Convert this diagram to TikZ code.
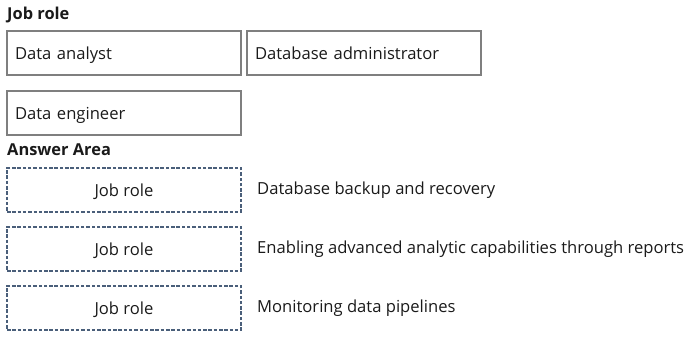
\documentclass[tikz,border=0pt]{standalone}
\usepackage{fontspec}
\setmainfont{Open Sans}
\usepackage{tikz}
\usetikzlibrary{positioning}
\definecolor{roleline}{HTML}{7F7F7F}
\definecolor{slotline}{HTML}{4A5F7A}
\definecolor{textcol}{HTML}{1A1A1A}
\tikzset{
  hdr/.style      = {anchor=west, inner sep=0pt, font=\fontsize{16.4}{18}\selectfont\bfseries, text=textcol},
  rolebox/.style  = {draw=roleline, line width=1.4pt, minimum width=234pt, minimum height=44pt,
                     text width=218pt, inner xsep=8pt, align=left, font=\fontsize{16.6}{18}\selectfont,
                     text height=12pt, text depth=0pt, text=textcol, outer sep=0pt},
  slotbox/.style  = {draw=slotline, line width=1.3pt, dash pattern=on 3.5pt off 1.8pt,
                     minimum width=234pt, minimum height=44pt, align=center,
                     font=\fontsize{16.6}{18}\selectfont, text height=12pt, text depth=0pt,
                     text=textcol, outer sep=0pt},
  task/.style     = {anchor=west, inner sep=0pt, font=\fontsize{16.6}{18}\selectfont, text=textcol},
}
\begin{document}
\begin{tikzpicture}[x=1pt, y=-1pt, node distance=16pt and 6pt]
    \useasboundingbox (0,0) rectangle (700,338);
    % Top part: the roles to drag
    \node[hdr] (hdrrole) at (7,15) {Job role};
    \node[rolebox, anchor=north west] (analyst) at (7,31) {Data analyst};
    \node[rolebox, right=of analyst] (dba) {Database administrator};
    \node[rolebox, below=of analyst] (engineer) {Data engineer};
    % Answer area: slots and their tasks
    \node[hdr] (hdranswer) at (7,150) {Answer Area};
    \node[slotbox, anchor=north west] (slotA) at (7,168) {Job role};
    \node[slotbox, below=15pt of slotA] (slotB) {Job role};
    \node[slotbox, below=15pt of slotB] (slotC) {Job role};
    \node[task, right=16pt of slotA] (taskA) {Database backup and recovery};
    \node[task, right=16pt of slotB] (taskB) {Enabling advanced analytic capabilities through reports};
    \node[task, right=16pt of slotC] (taskC) {Monitoring data pipelines};
\end{tikzpicture}
\end{document}
